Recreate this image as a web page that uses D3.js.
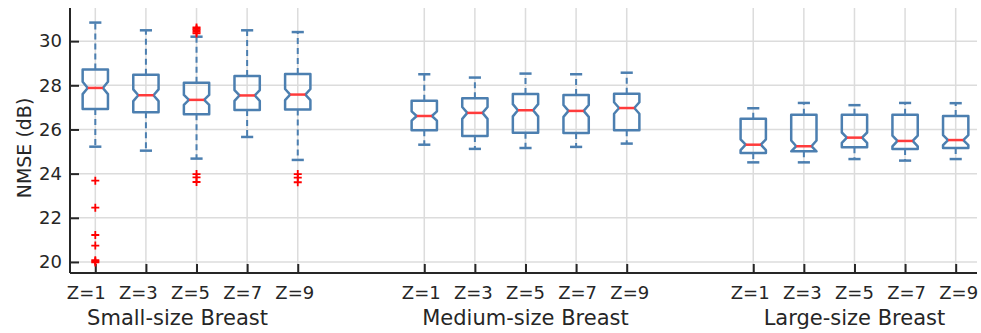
<!DOCTYPE html>
<meta charset="utf-8">
<head>
</head>
<body style="margin:0">
<style>
body { background: #fff; }
text { font-family: "DejaVu Sans", sans-serif; fill: #262626; }
.grid line { stroke: #dcdcdc; stroke-width: 1.5px; }
.box path { fill: none; stroke: #4c7fb0; stroke-width: 2.5px; stroke-linejoin: round; }
.whisker { stroke: #4c7fb0; stroke-width: 2px; stroke-dasharray: 6,4; }
.cap { stroke: #4c7fb0; stroke-width: 2.5px; }
.median { stroke: #ff3b3b; stroke-width: 2.5px; }
.outlier { stroke: #ff0000; stroke-width: 1.8px; }
</style>
<svg width="981" height="333"></svg>
<script src="https://d3js.org/d3.v7.min.js"></script>
<script>
// data
var groups = ["Small-size Breast", "Medium-size Breast", "Large-size Breast"];
var zLabels = ["Z=1", "Z=3", "Z=5", "Z=7", "Z=9"];
var positions = [1, 2, 3, 4, 5, 7.5, 8.5, 9.5, 10.5, 11.5, 14, 15, 16, 17, 18];
var whiskerHi = [30.84, 30.49, 30.2, 30.49, 30.41, 28.5, 28.35, 28.53, 28.5, 28.57, 26.96, 27.2, 27.1, 27.2, 27.19];
var q3 = [28.71, 28.48, 28.12, 28.42, 28.51, 27.3, 27.41, 27.61, 27.56, 27.62, 26.49, 26.67, 26.67, 26.67, 26.61];
var median = [27.88, 27.55, 27.34, 27.54, 27.58, 26.61, 26.75, 26.87, 26.84, 26.97, 25.31, 25.24, 25.63, 25.48, 25.52];
var q1 = [26.93, 26.78, 26.69, 26.88, 26.9, 25.96, 25.7, 25.85, 25.84, 25.96, 24.93, 25.01, 25.19, 25.12, 25.16];
var whiskerLo = [25.22, 25.04, 24.68, 25.66, 24.62, 25.31, 25.12, 25.16, 25.21, 25.36, 24.51, 24.51, 24.66, 24.59, 24.66];
var outliers = [
  [23.68, 22.46, 21.22, 20.74, 20.08, 20.03, 19.98],
  [],
  [30.35, 30.42, 30.5, 30.56, 30.62, 23.98, 23.83, 23.62],
  [],
  [23.98, 23.82, 23.61],
  [], [], [], [], [],
  [], [], [], [], []
];
var nSamples = 100;
var yTicks = [20, 22, 24, 26, 28, 30];
var groupCenters = [3, 9.5, 16];

var svg = d3.select("svg"),
  width = +svg.attr("width"),
  height = +svg.attr("height");

var x = d3.scaleLinear().domain([0.5, 18.5]).range([70, 981]);
var y = d3.scaleLinear().domain([19.5, 31.5]).range([273, 8]);

// grid
var grid = svg.append("g").attr("class", "grid");
grid.selectAll(".gy").data(yTicks).enter().append("line")
  .attr("x1", x(0.5)).attr("x2", x(18.5) - 4)
  .attr("y1", function(d) { return y(d); })
  .attr("y2", function(d) { return y(d); });
grid.selectAll(".gx").data(positions).enter().append("line")
  .attr("x1", function(d) { return x(d); })
  .attr("x2", function(d) { return x(d); })
  .attr("y1", y(31.5)).attr("y2", y(19.5));

// axes (ticks pointing inward)
var yAxis = svg.append("g")
  .attr("transform", "translate(" + x(0.5) + ",0)")
  .call(d3.axisRight(y).tickValues(yTicks).tickSize(9).tickFormat(d3.format("d")));
yAxis.selectAll("text").attr("x", -8).attr("text-anchor", "end")
  .style("font-size", "18px");

var xAxis = svg.append("g")
  .attr("transform", "translate(0," + y(19.5) + ")")
  .call(d3.axisTop(x).tickValues(positions).tickSize(9).tickFormat(""));

svg.selectAll(".domain").attr("stroke", "#262626").attr("stroke-width", 2);
yAxis.select(".domain").attr("d", "M0," + y(31.5) + "V" + y(19.5));
xAxis.select(".domain").attr("d", "M" + x(0.5) + ",0H" + (x(18.5) - 4));
svg.selectAll(".tick line").attr("stroke", "#262626").attr("stroke-width", 2);

// tick labels: one row per group, slightly wider spread than the ticks
var zShift = [-6, 0, 0];
svg.append("g").selectAll("text").data(positions).enter().append("text")
  .attr("x", function(d, i) {
    var g = Math.floor(i / 5), c = x(groupCenters[g]);
    return c + (x(d) - c) * 1.03 + zShift[g];
  })
  .attr("y", 299)
  .attr("text-anchor", "middle")
  .style("font-size", "18px")
  .text(function(d, i) { return zLabels[i % 5]; });

// group labels
var groupShift = [-19, 0, 0];
svg.selectAll(".glabel").data(groups).enter().append("text")
  .attr("x", function(d, i) { return x(groupCenters[i]) + groupShift[i]; })
  .attr("y", 325)
  .attr("text-anchor", "middle")
  .style("font-size", "21px")
  .text(function(d) { return d; });

// y label
svg.append("text")
  .attr("transform", "translate(31,148) rotate(-90)")
  .attr("text-anchor", "middle")
  .style("font-size", "19px")
  .text("NMSE (dB)");

// boxes
var hw = 0.25, nd = 0.1, cw = 0.12;
var boxes = svg.append("g").attr("class", "box").selectAll("g")
  .data(positions).enter().append("g");

boxes.append("line").attr("class", "whisker")
  .attr("x1", function(d) { return x(d); }).attr("x2", function(d) { return x(d); })
  .attr("y1", function(d, i) { return y(q3[i]); })
  .attr("y2", function(d, i) { return y(whiskerHi[i]); });
boxes.append("line").attr("class", "whisker")
  .attr("x1", function(d) { return x(d); }).attr("x2", function(d) { return x(d); })
  .attr("y1", function(d, i) { return y(q1[i]); })
  .attr("y2", function(d, i) { return y(whiskerLo[i]); });
boxes.append("line").attr("class", "cap")
  .attr("x1", function(d) { return x(d - cw); }).attr("x2", function(d) { return x(d + cw); })
  .attr("y1", function(d, i) { return y(whiskerHi[i]); })
  .attr("y2", function(d, i) { return y(whiskerHi[i]); });
boxes.append("line").attr("class", "cap")
  .attr("x1", function(d) { return x(d - cw); }).attr("x2", function(d) { return x(d + cw); })
  .attr("y1", function(d, i) { return y(whiskerLo[i]); })
  .attr("y2", function(d, i) { return y(whiskerLo[i]); });

boxes.append("path")
  .attr("d", function(d, i) {
    var half = 1.57 * (q3[i] - q1[i]) / Math.sqrt(nSamples);
    var lo = Math.max(q1[i], median[i] - half), hi = Math.min(q3[i], median[i] + half);
    var p = d3.path();
    p.moveTo(x(d - hw), y(q1[i]));
    p.lineTo(x(d - hw), y(lo));
    p.lineTo(x(d - hw + nd), y(median[i]));
    p.lineTo(x(d - hw), y(hi));
    p.lineTo(x(d - hw), y(q3[i]));
    p.lineTo(x(d + hw), y(q3[i]));
    p.lineTo(x(d + hw), y(hi));
    p.lineTo(x(d + hw - nd), y(median[i]));
    p.lineTo(x(d + hw), y(lo));
    p.lineTo(x(d + hw), y(q1[i]));
    p.closePath();
    return p.toString();
  });

boxes.append("line").attr("class", "median")
  .attr("x1", function(d) { return x(d - hw + nd); })
  .attr("x2", function(d) { return x(d + hw - nd); })
  .attr("y1", function(d, i) { return y(median[i]); })
  .attr("y2", function(d, i) { return y(median[i]); });

// outliers as '+'
var pts = [];
positions.forEach(function(p, i) {
  outliers[i].forEach(function(v) { pts.push({ x: p, v: v }); });
});
svg.append("g").selectAll("path").data(pts).enter().append("path")
  .attr("class", "outlier")
  .attr("fill", "none")
  .attr("transform", function(d) { return "translate(" + x(d.x) + "," + y(d.v) + ")"; })
  .attr("d", "M-4,0H4M0,-4V4");
</script>
</body>
